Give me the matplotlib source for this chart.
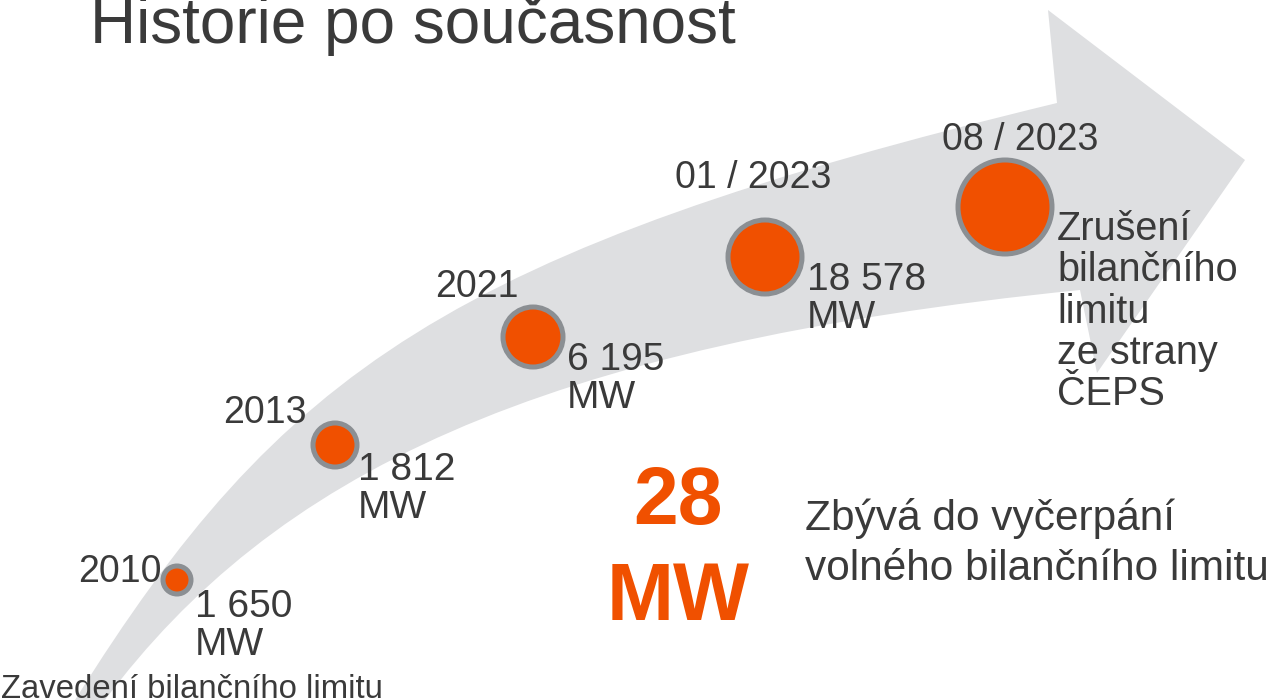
import matplotlib
matplotlib.use('Agg')
import matplotlib.pyplot as plt
from matplotlib.path import Path
from matplotlib.patches import PathPatch, Circle

plt.rcParams['font.family'] = ['Liberation Sans', 'DejaVu Sans']

# data
years = ['2010', '2013', '2021', '01 / 2023', '08 / 2023']
capacity_mw = [1650, 1812, 6195, 18578]
remaining_mw = 28
title = 'Historie po současnost'
start_note = 'Zavedení bilančního limitu'
end_note = ['Zrušení', 'bilančního', 'limitu', 'ze strany', 'ČEPS']
remaining_note = ['Zbývá do vyčerpání', 'volného bilančního limitu']

# layout (pixels, y down)
centers = [(177, 580), (335, 445), (533, 337), (765, 257), (1005, 207)]
radii = [14, 22, 30, 37, 47]
year_pos = [(78, 582), (223, 423), (435, 297), (675, 188), (942, 150)]
value_pos = [(195, 617), (358, 480), (567, 370), (807, 290)]

orange = '#f05000'
ring = '#8b8f93'
grey = '#dedfe1'
txt = '#3a3a3a'

fig = plt.figure(figsize=(12.76, 7), dpi=100)
ax = fig.add_axes([0, 0, 1, 1])
ax.set_xlim(0, 1276)
ax.set_ylim(700, 0)
ax.axis('off')

# curved arrow band
verts = [(75, 700), (280, 372), (450, 250), (1057, 103),
         (1048, 10), (1245, 160), (1097, 373), (1080, 290),
         (535, 345), (273, 476), (105, 700), (75, 700)]
codes = [Path.MOVETO, Path.CURVE4, Path.CURVE4, Path.CURVE4,
         Path.LINETO, Path.LINETO, Path.LINETO, Path.LINETO,
         Path.CURVE4, Path.CURVE4, Path.CURVE4, Path.CLOSEPOLY]
ax.add_patch(PathPatch(Path(verts, codes), facecolor=grey, edgecolor='none', zorder=1))

for (cx, cy), r in zip(centers, radii):
    ax.add_patch(Circle((cx, cy), r, facecolor=orange, edgecolor=ring, lw=3.6, zorder=3))

for (x, y), lab in zip(year_pos, years):
    ax.text(x, y, lab, fontsize=27, color=txt, va='baseline', ha='left', zorder=4)

for (x, y), v in zip(value_pos, capacity_mw):
    s = f'{v:,}'.replace(',', ' ')
    ax.text(x, y, s, fontsize=28, color=txt, va='baseline', ha='left', zorder=4)
    ax.text(x, y + 38, 'MW', fontsize=28, color=txt, va='baseline', ha='left', zorder=4)

for i, line in enumerate(end_note):
    ax.text(1057, 240 + i * 41.3, line, fontsize=28.5, color=txt, va='baseline', ha='left', zorder=4)

ax.text(90, 43, title, fontsize=46, color=txt, va='baseline', ha='left')
ax.text(1, 698, start_note, fontsize=23.7, color=txt, va='baseline', ha='left', zorder=4)

ax.text(678, 524, str(remaining_mw), fontsize=58, fontweight='bold', color=orange, va='baseline', ha='center')
ax.text(678, 620, 'MW', fontsize=58, fontweight='bold', color=orange, va='baseline', ha='center')

for i, line in enumerate(remaining_note):
    ax.text(805, 530 + i * 50, line, fontsize=30.5, color=txt, va='baseline', ha='left')

fig.savefig('out.png', dpi=100)
